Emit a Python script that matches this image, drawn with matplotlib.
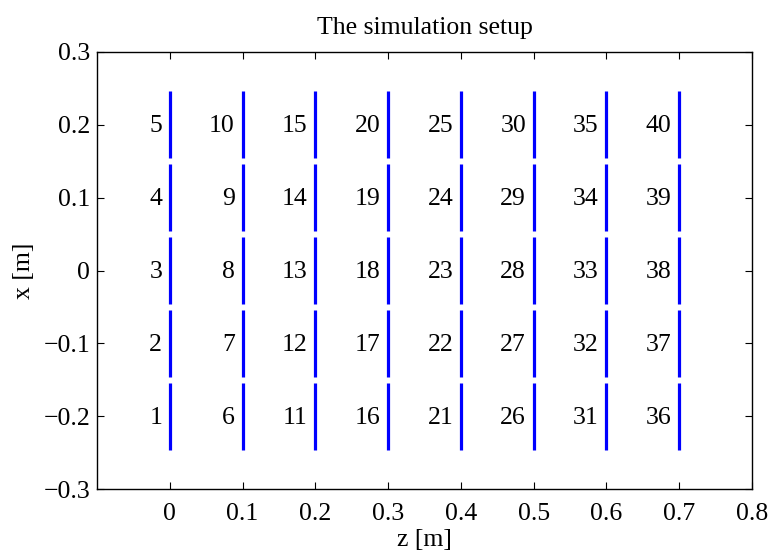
import numpy as np
import matplotlib
matplotlib.use("Agg")
import matplotlib.pyplot as plt

plt.rcParams['font.family'] = ['Liberation Serif', 'DejaVu Serif']
plt.rcParams['mathtext.fontset'] = 'stix'

# Array element positions along z and segment centres along x
z_positions = [0.0, 0.1, 0.2, 0.3, 0.4, 0.5, 0.6, 0.7]
x_centres = [-0.2, -0.1, 0.0, 0.1, 0.2]
half_length = 0.046
xticks = [0, 0.1, 0.2, 0.3, 0.4, 0.5, 0.6, 0.7, 0.8]
yticks = [-0.3, -0.2, -0.1, 0, 0.1, 0.2, 0.3]

FS = 18.5

fig = plt.figure(figsize=(7.71, 5.5), dpi=100)
ax = fig.add_axes([97 / 771, 1 - 489 / 550, (752 - 97) / 771, (489 - 52) / 550])

n = 1
for z in z_positions:
    for xc in x_centres:
        ax.plot([z, z], [xc - half_length, xc + half_length], color='#0000ff',
                lw=2.3, solid_capstyle='butt')
        ax.annotate(str(n), xy=(z, xc), xytext=(-5.5, -1), textcoords='offset points',
                    ha='right', va='center', fontsize=FS)
        n += 1

ax.set_xlim(-0.1, 0.8)
ax.set_ylim(-0.3, 0.3)
ax.set_xticks(xticks)
ax.set_xticklabels(['0' if v == 0 else f'{v:g}' for v in xticks])
ax.set_yticks(yticks)
ax.set_yticklabels(['0' if v == 0 else f'{v:g}'.replace('-', '\u2212') for v in yticks])
ax.tick_params(direction='in', length=5, width=0.8, top=True, right=True,
               labelsize=FS)
ax.tick_params(axis='x', pad=10)
ax.tick_params(axis='y', pad=5)
for s in ax.spines.values():
    s.set_linewidth(1.0)

ax.set_title('The simulation setup', fontsize=FS, pad=13)
ax.set_xlabel('z [m]', fontsize=FS, labelpad=3)
ax.set_ylabel('x [m]', fontsize=FS, labelpad=6)

fig.savefig('out.png', dpi=100)
